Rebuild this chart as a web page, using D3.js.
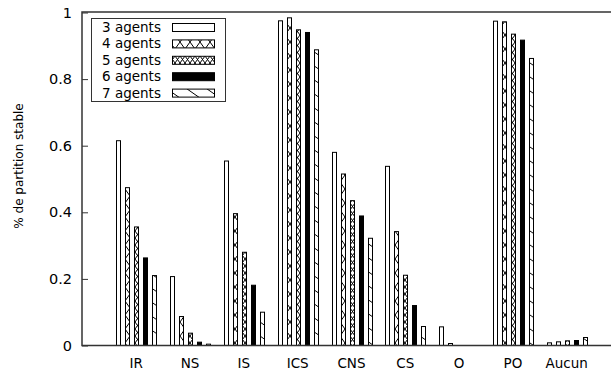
<!DOCTYPE html>
<html>
<head>
<meta charset="utf-8">
<script src="https://cdn.jsdelivr.net/npm/d3@7"></script>
<style>
body { margin: 0; background: #fff; }
text { font-family: "DejaVu Sans", sans-serif; fill: #000; }
</style>
</head>
<body>
<script>
// categories and series
var categories = ["IR", "NS", "IS", "ICS", "CNS", "CS", "O", "PO", "Aucun"];
var seriesNames = ["3 agents", "4 agents", "5 agents", "6 agents", "7 agents"];

var agents3 = [0.615, 0.207, 0.554, 0.975, 0.580, 0.538, 0.056, 0.974, 0.008];
var agents4 = [0.474, 0.087, 0.396, 0.984, 0.515, 0.342, 0.006, 0.972, 0.011];
var agents5 = [0.356, 0.037, 0.280, 0.948, 0.435, 0.211, 0.000, 0.935, 0.014];
var agents6 = [0.263, 0.010, 0.181, 0.940, 0.389, 0.120, 0.000, 0.917, 0.015];
var agents7 = [0.210, 0.004, 0.100, 0.888, 0.322, 0.057, 0.000, 0.862, 0.024];
var series = [agents3, agents4, agents5, agents6, agents7];

var yTicks = [0, 0.2, 0.4, 0.6, 0.8, 1];
var yTickLabels = ["0", "0.2", "0.4", "0.6", "0.8", "1"];

var width = 611;
var height = 373;

var svg = d3.select("body").append("svg")
    .attr("width", width)
    .attr("height", height);

// fill patterns (gnuplot style)
var defs = svg.append("defs");

function addPattern(id, w, h, lines) {
    var p = defs.append("pattern")
        .attr("id", id)
        .attr("patternUnits", "userSpaceOnUse")
        .attr("width", w)
        .attr("height", h);
    p.append("rect").attr("width", w).attr("height", h).attr("fill", "#fff");
    lines.forEach(function(l) {
        p.append("line")
            .attr("x1", l[0]).attr("y1", l[1])
            .attr("x2", l[2]).attr("y2", l[3])
            .attr("stroke", "#000")
            .attr("stroke-width", 1);
    });
}
addPattern("cross", 10, 14, [[0, 0, 10, 14], [10, 0, 0, 14]]);
addPattern("dense", 5, 7, [[0, 0, 5, 7], [5, 0, 0, 7]]);
addPattern("back", 20, 14, [[0, 0, 20, 14]]);

var fills = ["#fff", "url(#cross)", "url(#dense)", "#000", "url(#back)"];

// scales: x in gnuplot units (category i at i+1)
var xScale = d3.scaleLinear().domain([0, 10]).range([82.5, 620.5]);
var yScale = d3.scaleLinear().domain([0, 1]).range([345.5, 12.5]);
var barStep = 9;

// bars
series.forEach(function(values, k) {
    svg.append("g")
        .selectAll("rect")
        .data(values)
        .enter()
        .append("rect")
        .attr("x", function(d, i) {
            var c = xScale(i + 1) + (k - 2) * barStep;
            return Math.round(c) - 2 + 0.5;
        })
        .attr("y", function(d) { return yScale(d); })
        .attr("width", 4)
        .attr("height", function(d) { return yScale(0) - yScale(d); })
        .attr("fill", fills[k])
        .attr("stroke", "#000")
        .attr("stroke-width", 1);
});

// y axis
var yAxis = d3.axisLeft(yScale)
    .tickValues(yTicks)
    .tickSize(-6)
    .tickPadding(10)
    .tickFormat(function(d, i) { return yTickLabels[i]; });

var gy = svg.append("g")
    .attr("transform", "translate(82,0)")
    .call(yAxis);
gy.select(".domain").remove();
gy.selectAll("line").attr("stroke", "#333");
gy.selectAll("text").style("font-size", "14.5px").attr("fill", "#000");

// x labels
svg.append("g")
    .selectAll("text")
    .data(categories)
    .enter()
    .append("text")
    .attr("x", function(d, i) { return xScale(i + 1); })
    .attr("y", 368)
    .attr("text-anchor", "middle")
    .style("font-size", "13.5px")
    .text(function(d) { return d; });

// border (right side falls outside the picture)
svg.append("path")
    .attr("d", "M" + width + ",12 H82 V345.5 H" + width)
    .attr("fill", "none")
    .attr("stroke", "#333")
    .attr("stroke-width", 1.5);

// y label
svg.append("text")
    .attr("transform", "translate(23,166) rotate(-90)")
    .attr("text-anchor", "middle")
    .style("font-size", "12px")
    .text("% de partition stable");

// legend
var legend = svg.append("g").attr("class", "legend");

legend.append("rect")
    .attr("x", 91.5)
    .attr("y", 18.5)
    .attr("width", 134)
    .attr("height", 83)
    .attr("fill", "#fff")
    .attr("stroke", "#333")
    .attr("stroke-width", 1);

legend.selectAll("rect.sw")
    .data(seriesNames)
    .enter()
    .append("rect")
    .attr("class", "sw")
    .attr("x", 172.5)
    .attr("y", function(d, i) { return 23.5 + i * 16.4; })
    .attr("width", 42)
    .attr("height", 8)
    .attr("fill", function(d, i) { return fills[i]; })
    .attr("stroke", "#000")
    .attr("stroke-width", 1);

legend.selectAll("text")
    .data(seriesNames)
    .enter()
    .append("text")
    .attr("x", 102)
    .attr("y", function(d, i) { return 32 + i * 16.4; })
    .style("font-size", "13.5px")
    .text(function(d) { return d; });
</script>
</body>
</html>
